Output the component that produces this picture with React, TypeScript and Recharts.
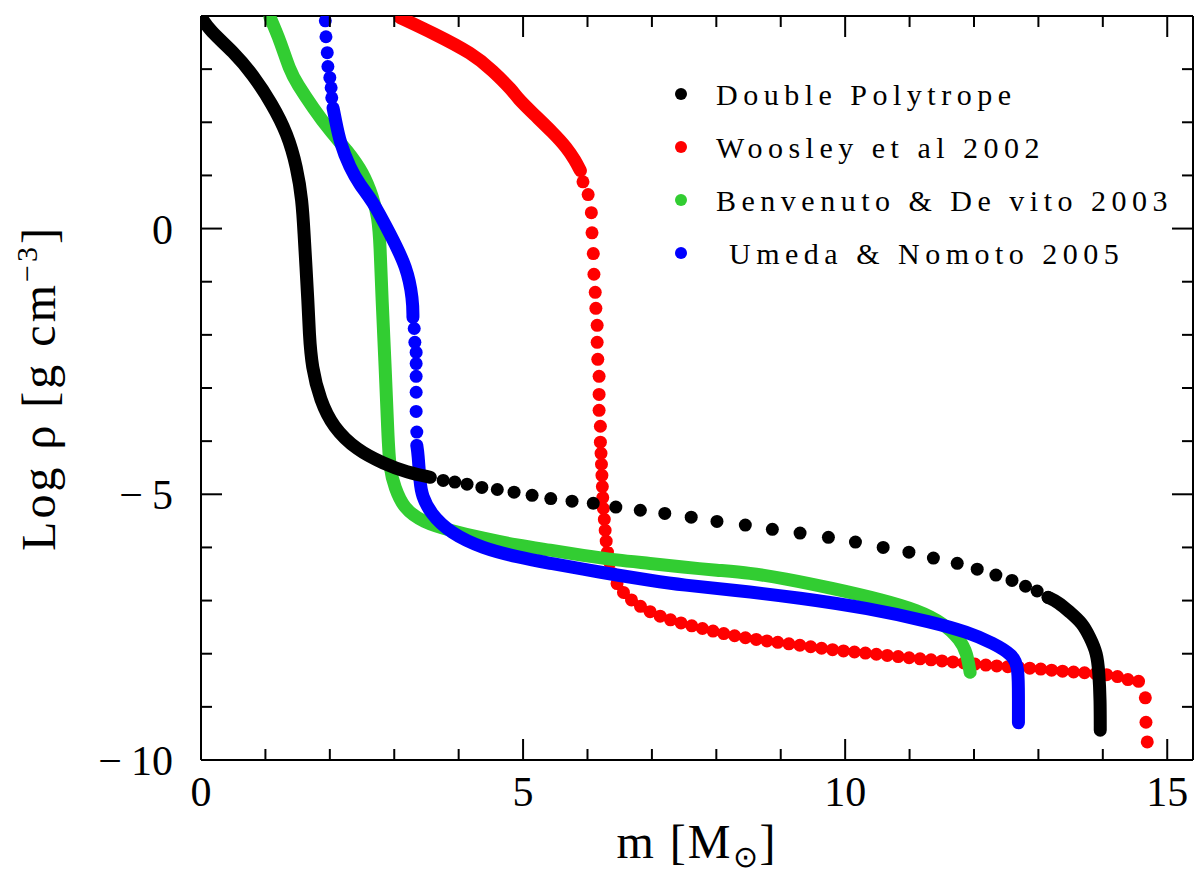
import { Legend, ReferenceLine, Scatter, ScatterChart, XAxis, YAxis } from "recharts";

type Pt = [number, number];

const seriesNames = ["Double Polytrope", "Woosley et al 2002", "Benvenuto & De vito 2003", " Umeda & Nomoto 2005"];
const seriesColors = ["#000000", "#ff0000", "#32cd32", "#0000ff"];

const xTicks = [0, 1, 2, 3, 4, 5, 6, 7, 8, 9, 10, 11, 12, 13, 14, 15];
const xMajor = [0, 5, 10, 15];
const yTicks = [-10, -9, -8, -7, -6, -5, -4, -3, -2, -1, 0, 1, 2, 3];
const yMajor = [-10, -5, 0];

// Double Polytrope: dense core, sparse envelope dots, dense edge
const polyCore: Pt[] = [
  [0, 3.98], [0.14, 3.72], [0.5, 3.33], [0.81, 2.89], [1.1, 2.35], [1.34, 1.79], [1.49, 1.15],
  [1.57, 0.53], [1.6, -0.09], [1.63, -0.73], [1.66, -1.35], [1.68, -1.97], [1.72, -2.61],
  [1.85, -3.23], [2.05, -3.74], [2.42, -4.17], [2.83, -4.42], [3.2, -4.59], [3.56, -4.68],
];
const polyDots: Pt[] = [
  [3.76, -4.74], [3.94, -4.77], [4.13, -4.81], [4.36, -4.87], [4.6, -4.91], [4.86, -4.96],
  [5.14, -5.02], [5.43, -5.08], [5.76, -5.13], [6.09, -5.17], [6.44, -5.24], [6.82, -5.3],
  [7.2, -5.36], [7.61, -5.43], [8.01, -5.51], [8.45, -5.58], [8.87, -5.66], [9.3, -5.73],
  [9.74, -5.81], [10.16, -5.9], [10.59, -6.0], [10.99, -6.09], [11.37, -6.2], [11.74, -6.3],
  [12.05, -6.41], [12.34, -6.52], [12.59, -6.62], [12.8, -6.73], [12.98, -6.82], [13.15, -6.94],
];
const polyEdge: Pt[] = [
  [13.15, -6.94], [13.31, -7.03], [13.49, -7.22], [13.68, -7.42], [13.8, -7.69], [13.91, -7.99],
  [13.94, -8.36], [13.96, -8.87], [13.96, -9.44],
];

// Woosley et al 2002
const woosleyCore: Pt[] = [
  [3.09, 3.97], [3.6, 3.68], [4.22, 3.29], [4.53, 2.97], [4.84, 2.59], [4.91, 2.46], [5.16, 2.16],
  [5.47, 1.8], [5.68, 1.52], [5.81, 1.28], [5.89, 1.09],
];
const woosleyDots: Pt[] = [
  [5.93, 0.88], [6.01, 0.64], [6.06, 0.3], [6.07, -0.08], [6.09, -0.47], [6.1, -0.86], [6.12, -1.2],
  [6.13, -1.5], [6.15, -1.82], [6.15, -2.14], [6.16, -2.46], [6.18, -2.78], [6.18, -3.12],
  [6.18, -3.42], [6.2, -3.72], [6.2, -4.02],
];
const woosleyEnvelope: Pt[] = [
  [6.21, -4.23], [6.23, -4.81], [6.24, -5.21], [6.26, -5.43], [6.27, -5.64], [6.29, -5.86],
  [6.3, -6.05], [6.35, -6.3], [6.4, -6.56], [6.51, -6.8], [6.71, -7.03], [6.97, -7.22],
  [7.28, -7.37], [7.7, -7.5], [8.06, -7.61], [8.48, -7.71], [8.79, -7.76], [9.3, -7.84],
  [9.81, -7.93], [10.34, -7.99], [10.85, -8.06], [11.37, -8.12], [11.89, -8.18], [12.41, -8.24],
  [12.92, -8.27], [13.34, -8.33], [13.76, -8.36], [14.16, -8.4], [14.38, -8.48], [14.53, -8.55],
  [14.61, -8.48],
];
const woosleyTail: Pt[] = [[14.66, -8.83], [14.67, -9.29], [14.69, -9.66]];

// Benvenuto & De vito 2003
const benvenutoCore: Pt[] = [
  [1.07, 3.98], [1.23, 3.53], [1.38, 2.97], [1.49, 2.73], [1.74, 2.27], [2.0, 1.84], [2.27, 1.47],
  [2.52, 1.05], [2.67, 0.58], [2.75, 0.21], [2.78, -0.28], [2.81, -1.35], [2.86, -2.61],
  [2.9, -3.85], [2.93, -4.55], [3.01, -4.87], [3.14, -5.26], [3.45, -5.53], [3.87, -5.68],
  [4.38, -5.83], [4.91, -5.96], [5.42, -6.05], [5.93, -6.15], [6.46, -6.24], [6.97, -6.3],
  [7.48, -6.37], [8.01, -6.43], [8.52, -6.48], [9.04, -6.58], [9.81, -6.77], [10.59, -6.99],
  [11.12, -7.18], [11.52, -7.42], [11.79, -7.74], [11.89, -7.99], [11.94, -8.35],
];

// Umeda & Nomoto 2005
const umedaTopDots: Pt[] = [
  [1.93, 3.91], [1.94, 3.61], [1.96, 3.31], [1.97, 3.05], [2.0, 2.84], [2.02, 2.65], [2.03, 2.46],
];
const umedaCore: Pt[] = [
  [2.05, 2.27], [2.08, 2.09], [2.16, 1.6], [2.31, 1.15], [2.47, 0.81], [2.66, 0.53], [2.93, -0.09],
  [3.2, -0.73], [3.29, -1.35], [3.29, -1.67],
];
const umedaMidDots: Pt[] = [
  [3.31, -1.88], [3.32, -2.14], [3.34, -2.33], [3.34, -2.54], [3.34, -2.78], [3.34, -3.08],
  [3.34, -3.44], [3.35, -3.83],
];
const umedaEnvelope: Pt[] = [
  [3.35, -4.08], [3.37, -4.23], [3.4, -4.79], [3.43, -5.02], [3.56, -5.36], [3.87, -5.73],
  [4.38, -6.02], [4.91, -6.18], [5.42, -6.3], [5.93, -6.41], [6.46, -6.52], [6.97, -6.62],
  [7.48, -6.71], [8.26, -6.8], [9.3, -6.95], [10.34, -7.14], [11.37, -7.41], [11.89, -7.59],
  [12.3, -7.8], [12.61, -8.03], [12.69, -8.25], [12.69, -8.87], [12.69, -9.3],
];

const FONT = "'Liberation Serif', 'Times New Roman', serif";
const PLOT_W = 992;
const PLOT_H = 744;
const DOT_R = 6.5;

const toXY = (pts: Pt[]) => pts.map(([x, y]) => ({ x, y }));

const trails = [
  { key: "woosleyCore", data: woosleyCore, color: seriesColors[1] },
  { key: "woosleyEnvelope", data: woosleyEnvelope, color: seriesColors[1], dash: "0 11" },
  { key: "benvenutoCore", data: benvenutoCore, color: seriesColors[2] },
  { key: "umedaCore", data: umedaCore, color: seriesColors[3] },
  { key: "umedaEnvelope", data: umedaEnvelope, color: seriesColors[3] },
  { key: "polyCore", data: polyCore, color: seriesColors[0] },
  { key: "polyEdge", data: polyEdge, color: seriesColors[0] },
];

const dotSets = [
  { key: "woosleyDots", data: woosleyDots, color: seriesColors[1] },
  { key: "woosleyTail", data: woosleyTail, color: seriesColors[1] },
  { key: "umedaTopDots", data: umedaTopDots, color: seriesColors[3] },
  { key: "umedaMidDots", data: umedaMidDots, color: seriesColors[3] },
  { key: "polyDots", data: polyDots, color: seriesColors[0] },
];

function XTick(props: any) {
  const { x, y, payload } = props;
  const major = xMajor.includes(payload.value);
  const len = major ? 21 : 11;
  return (
    <g>
      <line x1={x} y1={y} x2={x} y2={y - len} stroke="#000" strokeWidth={2} />
      <line x1={x} y1={y - PLOT_H} x2={x} y2={y - PLOT_H + len} stroke="#000" strokeWidth={2} />
      {major && (
        <text x={x} y={y + 46} textAnchor="middle" fontFamily={FONT} fontSize={42} fill="#000">
          {payload.value}
        </text>
      )}
    </g>
  );
}

function YTick(props: any) {
  const { x, y, payload } = props;
  const major = yMajor.includes(payload.value);
  const len = major ? 21 : 11;
  const v = payload.value;
  return (
    <g>
      <line x1={x} y1={y} x2={x + len} y2={y} stroke="#000" strokeWidth={2} />
      <line x1={x + PLOT_W} y1={y} x2={x + PLOT_W - len} y2={y} stroke="#000" strokeWidth={2} />
      {major && (
        <text x={x - 28} y={y + 15} textAnchor="end" fontFamily={FONT} fontSize={42} fill="#000">
          {v < 0 ? (
            <>
              {"\u2212"}
              <tspan dx={9}>{Math.abs(v)}</tspan>
            </>
          ) : (
            v
          )}
        </text>
      )}
    </g>
  );
}

function XTitle(props: any) {
  const vb = props.viewBox || { x: 201, y: 760, width: PLOT_W };
  const cx = vb.x + vb.width / 2;
  return (
    <text x={cx} y={vb.y + 98} textAnchor="middle" fontFamily={FONT} fontSize={48} fill="#000" letterSpacing={2}>
      m [M<tspan dy={9} fontSize={30}>{"\u2299"}</tspan>
      <tspan dy={-9}>]</tspan>
    </text>
  );
}

function YTitle(props: any) {
  const vb = props.viewBox || { x: 0, y: 16, height: PLOT_H };
  const cx = 55;
  const cy = vb.y + vb.height / 2;
  return (
    <text
      x={cx}
      y={cy}
      transform={`rotate(-90 ${cx} ${cy})`}
      textAnchor="middle"
      fontFamily={FONT}
      fontSize={48}
      fill="#000"
      letterSpacing={3}
    >
      Log ρ [g cm<tspan dy={-18} fontSize={30}>{"\u22123"}</tspan>
      <tspan dy={18}>]</tspan>
    </text>
  );
}

function LegendBox() {
  return (
    <svg width={540} height={230}>
      {seriesNames.map((name, i) => (
        <g key={name}>
          <circle cx={31} cy={34 + i * 53} r={6} fill={seriesColors[i]} />
          <text
            x={66}
            y={45 + i * 53}
            fontFamily={FONT}
            fontSize={30}
            letterSpacing={5.5}
            fill="#000"
            style={{ whiteSpace: "pre" }}
          >
            {name}
          </text>
        </g>
      ))}
    </svg>
  );
}

const noShape = () => <g />;

export default function App() {
  return (
    <div style={{ position: "absolute", left: 0, top: 0, background: "#fff" }}>
      <ScatterChart width={1194} height={874} margin={{ top: 16, right: 1, bottom: 54, left: 0 }}>
        <XAxis
          type="number"
          dataKey="x"
          domain={[0, 15.4]}
          allowDataOverflow
          ticks={xTicks}
          interval={0}
          tickLine={false}
          tickSize={0}
          tickMargin={0}
          tick={XTick}
          height={60}
          axisLine={{ stroke: "#000", strokeWidth: 2 }}
          label={<XTitle />}
        />
        <YAxis
          type="number"
          dataKey="y"
          domain={[-10, 4]}
          allowDataOverflow
          ticks={yTicks}
          interval={0}
          tickLine={false}
          tickSize={0}
          tickMargin={0}
          tick={YTick}
          width={201}
          axisLine={{ stroke: "#000", strokeWidth: 2 }}
          label={<YTitle />}
        />
        <ReferenceLine y={4} stroke="#000" strokeWidth={2} />
        <ReferenceLine x={15.4} stroke="#000" strokeWidth={2} />
        {trails.map((t) => (
          <Scatter
            key={t.key}
            data={toXY(t.data)}
            isAnimationActive={false}
            legendType="none"
            fill={t.color}
            shape={noShape}
            lineJointType="basis"
            line={{
              stroke: t.color,
              strokeWidth: 13,
              strokeLinecap: "round",
              strokeLinejoin: "round",
              strokeDasharray: t.dash,
            }}
          />
        ))}
        {dotSets.map((d) => (
          <Scatter
            key={d.key}
            data={toXY(d.data)}
            isAnimationActive={false}
            legendType="none"
            fill={d.color}
            shape={(p: any) => <circle cx={p.cx} cy={p.cy} r={DOT_R} fill={d.color} />}
          />
        ))}
        <Legend
          layout="vertical"
          align="center"
          verticalAlign="middle"
          content={LegendBox}
          wrapperStyle={{ left: 650, top: 60, width: 540, height: 230 }}
        />
      </ScatterChart>
    </div>
  );
}
